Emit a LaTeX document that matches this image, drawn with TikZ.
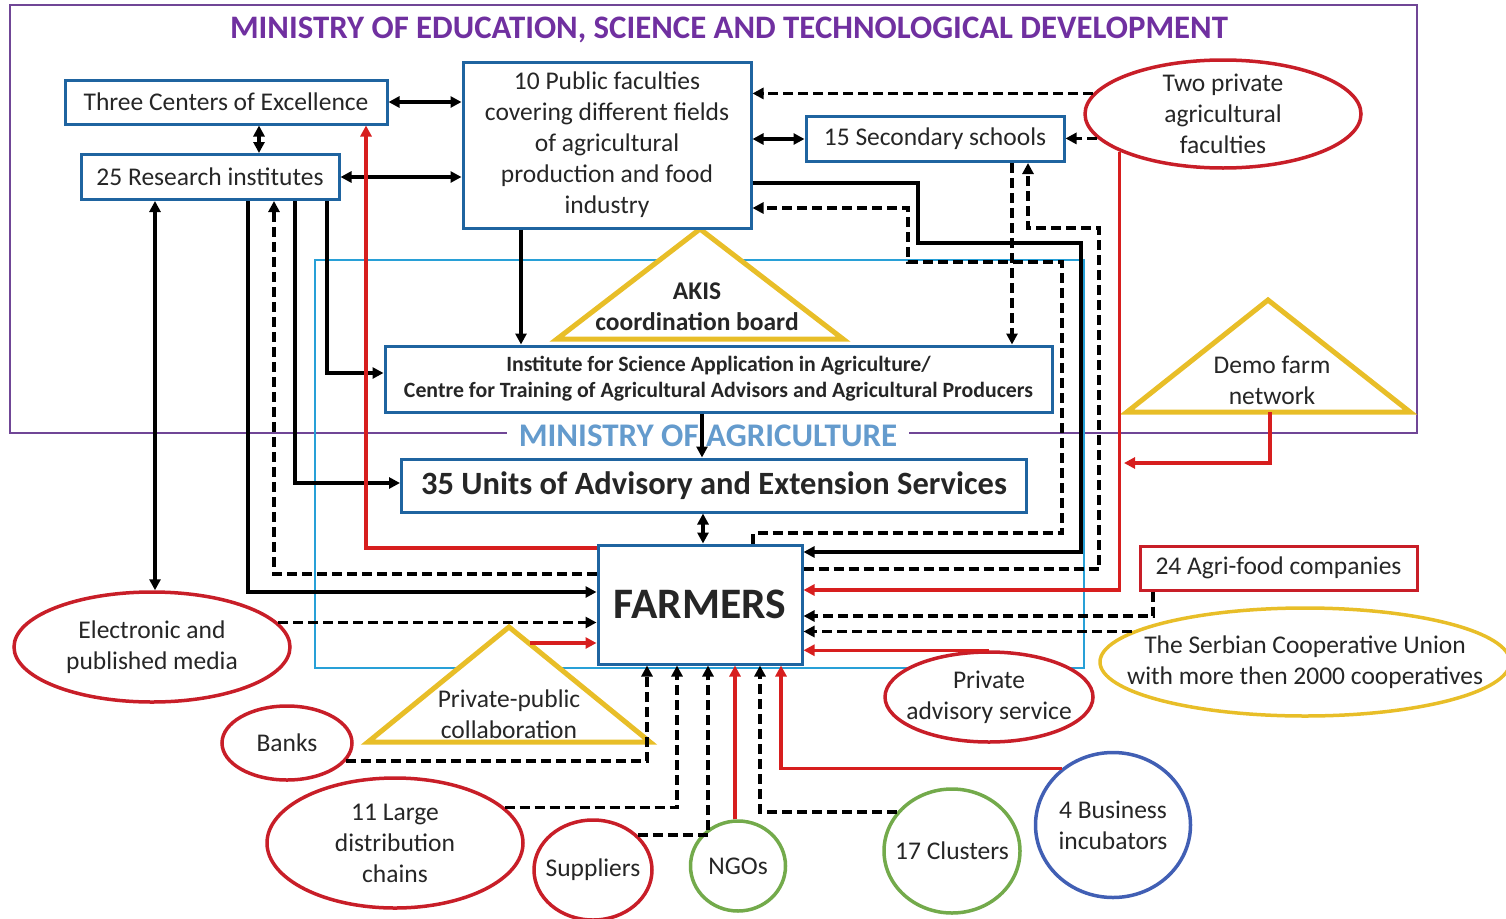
\documentclass[tikz,border=0pt]{standalone}
\usepackage{fontspec}
\setmainfont{Carlito}
\usetikzlibrary{arrows.meta,shapes.geometric}
\definecolor{titlepurple}{RGB}{112,48,160}
\definecolor{framepurple}{RGB}{112,70,150}
\definecolor{moablue}{RGB}{100,155,205}
\definecolor{frameblue}{RGB}{40,160,215}
\definecolor{boxblue}{RGB}{31,100,160}
\definecolor{ellred}{RGB}{200,30,40}
\definecolor{linered}{RGB}{215,30,30}
\definecolor{triyellow}{RGB}{232,190,40}
\definecolor{ellgreen}{RGB}{115,170,75}
\definecolor{ellblue}{RGB}{65,95,180}
\begin{document}
\begin{tikzpicture}[x=1pt,y=-1pt,
  >={Triangle[length=11pt,width=11pt]},
  txt/.style={font=\fontsize{25.5}{31}\selectfont, align=center, text=black!85},
  bbox/.style={txt, draw=boxblue, line width=3pt, fill=white, inner sep=0pt},
  rbox/.style={txt, draw=ellred, line width=3pt, fill=white, inner sep=0pt},
  ell/.style={ellipse, draw=#1, line width=3.5pt, fill=white, inner sep=0pt},
  lbl/.style={txt},
  tri/.style={draw=triyellow, line width=5pt, fill=white, line join=miter},
  conn/.style={line width=3.5pt, draw=black},
  dconn/.style={conn, dash pattern=on 10pt off 5pt},
  rconn/.style={line width=3.2pt, draw=linered},
]
\useasboundingbox (0,0) rectangle (1506,918);
% frames
\node[font=\bfseries\fontsize{32.8}{38}\selectfont, text=titlepurple] (title) at (729,30) {MINISTRY OF EDUCATION, SCIENCE AND TECHNOLOGICAL DEVELOPMENT};
\node[font=\bfseries\fontsize{33}{38}\selectfont, text=moablue, inner xsep=12pt] (moa) at (708,436) {MINISTRY OF AGRICULTURE};
\draw[framepurple, line width=2pt] (moa.west |- 0,433) -- (10,433) -- (10,5) -- (1417,5) -- (1417,433) -- (moa.east |- 0,433);
\draw[frameblue, line width=2pt] (315,260) rectangle (1084,668);
% triangles
\draw[tri] (700,229) -- (843,339) -- (557,339) -- cycle;
\node[txt, font=\bfseries\fontsize{25.5}{31}\selectfont] (akis) at (697,307) {AKIS\\coordination board};
\draw[tri] (1268,300) -- (1410,412) -- (1127,412) -- cycle;
\node[txt] (demo) at (1272,380) {Demo farm\\network};
\coordinate (demoB) at (1270,412);
\coordinate (redjoin) at (1124,463);
\draw[tri] (509,627) -- (650,742) -- (368,742) -- cycle;
\node[txt] (ppc) at (509,714) {Private-public\\collaboration};
\coordinate (ppcR) at (530,643);
% boxes
\node[bbox, minimum width=322, minimum height=44] (tce) at (226,102) {Three Centers of Excellence};
\node[bbox, minimum width=258, minimum height=45] (res) at (210,177) {25 Research institutes};
\node[bbox, minimum width=288, minimum height=166] (fac) at (607,145) {10 Public faculties\\covering different fields\\of agricultural\\production and food\\industry};
\node[bbox, minimum width=258, minimum height=45] (sec) at (935,139) {15 Secondary schools};
\node[bbox, minimum width=667, minimum height=66, font=\bfseries\fontsize{21.8}{26}\selectfont] (inst) at (718.5,379) {Institute for Science Application in Agriculture/\\Centre for Training of Agricultural Advisors and Agricultural Producers};
\node[bbox, minimum width=625, minimum height=53, font=\bfseries\fontsize{32.5}{38}\selectfont] (units) at (714,485.5) {35 Units of Advisory and Extension Services};
\node[bbox, minimum width=204, minimum height=119, font=\bfseries\fontsize{43.5}{50}\selectfont] (farm) at (700,604.5) {FARMERS};
\node[rbox, minimum width=277, minimum height=44] (agri) at (1278.5,568) {24 Agri-food companies};
% ellipses
\node[ell=ellred, minimum width=276, minimum height=108, label={[lbl]center:{Two private\\agricultural\\faculties}}] (tpf) at (1223,114) {};
\node[ell=ellred, minimum width=276, minimum height=110, label={[lbl]center:{Electronic and\\published media}}] (media) at (152,647) {};
\node[ell=ellred, minimum width=130, minimum height=74, label={[lbl]center:{Banks}}] (banks) at (287,743) {};
\node[ell=ellred, minimum width=256, minimum height=130, label={[lbl]center:{11 Large\\distribution\\chains}}] (large) at (395,843) {};
\node[ell=ellred, minimum width=118, minimum height=100, label={[lbl]center:{Suppliers}}] (supp) at (593,870) {};
\node[ell=ellgreen, minimum width=95, minimum height=90, label={[lbl]center:{NGOs}}] (ngo) at (738,866) {};
\node[ell=ellgreen, minimum width=136, minimum height=124, label={[lbl]center:{17 Clusters}}] (clus) at (952,851) {};
\node[ell=ellblue, minimum width=155, minimum height=145, label={[lbl]center:{4 Business\\incubators}}] (inc) at (1113,825) {};
\node[ell=ellred, minimum width=208, minimum height=90, label={[lbl]center:{Private\\advisory service}}] (pas) at (989,697) {};
\node[ell=triyellow, minimum width=410, minimum height=108, label={[lbl]center:{The Serbian Cooperative Union\\with more then 2000 cooperatives}}] (scu) at (1305,662) {};
% connectors
\draw[conn,<->] (tce.east) -- (fac.west |- tce.east);
\draw[conn,<->] (tce.south -| 259,0) -- (res.north -| 259,0);
\draw[conn,<->] (res.east) -- (fac.west |- res.east);
\draw[conn,<->] (fac.east |- sec.west) -- (sec.west);
\draw[dconn,->] (tpf.171.6) -- (fac.east |- tpf.171.6);
\draw[dconn,->] (tpf.191.6) -- (sec.east |- tpf.191.6);
\draw[conn,->] (fac.east |- 0,183) -| (918,243) -| (1081,552) -- (farm.east |- 0,552);
\draw[dconn,->] (farm.north -| 753,0) |- (1062,533) |- (908,262) |- (fac.east |- 0,208);
\draw[dconn,->] (farm.east |- 0,569) -| (1099,228) -| (sec.south -| 1028,0);
\draw[dconn,->] (sec.south -| 1012,0) -- (inst.north -| 1012,0);
\draw[conn,->] (fac.south -| 521,0) -- (inst.north -| 521,0);
\draw[conn,->] (inst.south -| 702,0) -- (units.north -| 702,0);
\draw[conn,<->] (units.south -| 703,0) -- (farm.north -| 703,0);
\draw[conn,->] (res.south -| 327,0) |- (inst.west |- 0,373);
\draw[conn,->] (res.south -| 295,0) |- (units.west |- 0,483);
\draw[dconn,->] (farm.west |- 0,574) -| (res.south -| 274,0);
\draw[conn,->] (res.south -| 248,0) |- (farm.west |- 0,592);
\draw[conn,<->] (res.south -| 155,0) -- (media.north -| 155,0);
\draw[dconn,->] (media.11.5) -- (farm.west |- media.11.5);
\draw[rconn,->] (farm.west |- 0,548) -| (tce.south -| 366,0);
\draw[rconn,->] (ppcR) -- (farm.west |- ppcR);
\draw[rconn,->] (tpf.200.1) |- (farm.east |- 0,590);
\draw[rconn,->] (demoB) |- (redjoin);
\draw[dconn,->] (agri.south -| 1153,0) |- (farm.east |- 0,616);
\draw[dconn,->] (scu.170) -- (farm.east |- scu.170);
\draw[rconn,->] (pas.north) -- (farm.east |- pas.north);
\draw[dconn,->] (banks.343.7) -| (farm.south -| 647,0);
\draw[dconn,->] (large.18.6) -| (farm.south -| 677,0);
\draw[dconn,->] (supp.38.3) -| (farm.south -| 708,0);
\draw[rconn,->] (ngo.north -| 735,0) -- (farm.south -| 735,0);
\draw[dconn,->] (clus.145.8) -| (farm.south -| 760,0);
\draw[rconn,->] (inc.132.1) -| (farm.south -| 781,0);
\end{tikzpicture}
\end{document}
